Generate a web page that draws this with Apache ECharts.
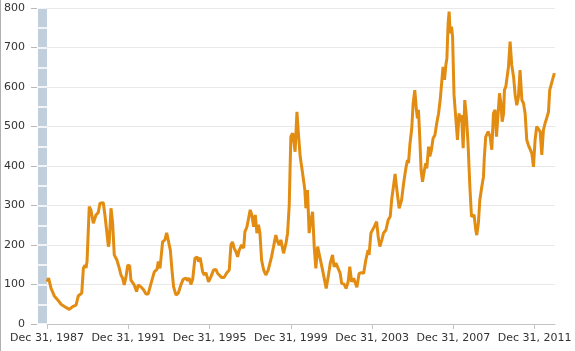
<!DOCTYPE html>
<html>
<head>
<meta charset="utf-8">
<script src="https://cdn.jsdelivr.net/npm/echarts@6/dist/echarts.min.js"></script>
<style>
html,body{margin:0;padding:0;background:#fff;}
#main{width:574px;height:351px;border-left:1px solid #b0b0b0;}
</style>
</head>
<body>
<div id="main"></div>
<script>
// 时间（年份小数，1988.00 = Dec 31, 1987）
var dates=[1988.00,1988.08,1988.20,1988.36,1988.53,1988.69,1988.93,1989.10,1989.26,1989.43,1989.54,1989.61,1989.71,1989.79,1989.87,1989.92,1989.97,
	1990.08,1990.16,1990.28,1990.36,1990.41,1990.52,1990.61,1990.69,1990.77,1990.85,1990.95,1991.02,1991.06,1991.15,1991.23,1991.31,1991.44,1991.56,1991.64,1991.72,1991.80,1991.89,1991.97,
	1992.07,1992.13,1992.22,1992.29,1992.41,1992.49,1992.62,1992.76,1992.87,1992.98,1993.04,
	1993.12,1993.28,1993.41,1993.48,1993.56,1993.69,1993.80,1993.89,1993.97,1994.07,1994.15,1994.23,1994.35,1994.46,1994.59,1994.70,1994.84,1994.92,
	1995.00,1995.08,1995.17,1995.28,1995.38,1995.46,1995.54,1995.66,1995.74,1995.82,1995.95,1996.07,1996.20,1996.31,1996.40,1996.48,1996.59,1996.72,1996.85,1996.97,
	1997.05,1997.13,1997.21,1997.30,1997.38,1997.46,1997.58,1997.68,1997.74,1997.84,1997.92,1998.00,1998.08,1998.17,1998.25,1998.33,1998.41,1998.48,1998.56,1998.66,1998.77,1998.89,1998.98,
	1999.05,1999.15,1999.26,1999.35,1999.43,1999.51,1999.64,1999.76,1999.84,1999.92,
	2000.00,2000.09,2000.16,2000.21,2000.30,2000.36,2000.46,2000.58,2000.69,2000.74,2000.82,2000.90,2000.99,
	2001.07,2001.15,2001.23,2001.32,2001.44,2001.56,2001.64,2001.74,2001.84,2001.94,
	2002.05,2002.13,2002.22,2002.30,2002.43,2002.50,2002.62,2002.72,2002.82,2002.90,2002.99,
	2003.09,2003.15,2003.25,2003.36,2003.48,2003.58,2003.69,2003.80,2003.85,2003.94,
	2004.02,2004.10,2004.22,2004.30,2004.38,2004.48,2004.56,2004.68,2004.79,2004.89,2004.97,
	2005.05,2005.13,2005.22,2005.33,2005.45,2005.55,2005.61,2005.66,2005.74,2005.79,2005.86,2005.95,
	2006.02,2006.10,2006.18,2006.23,2006.28,2006.35,2006.41,2006.48,2006.56,2006.64,2006.69,2006.78,2006.84,2006.92,
	2007.00,2007.09,2007.18,2007.27,2007.35,2007.43,2007.49,2007.56,2007.63,2007.68,2007.74,2007.79,2007.84,2007.91,2007.96,
	2008.03,2008.12,2008.20,2008.28,2008.33,2008.40,2008.48,2008.56,2008.64,2008.72,2008.81,2008.89,2008.97,
	2009.02,2009.10,2009.15,2009.23,2009.30,2009.40,2009.48,2009.52,2009.59,2009.71,2009.81,2009.89,2009.97,
	2010.05,2010.12,2010.20,2010.27,2010.33,2010.40,2010.47,2010.51,2010.58,2010.66,2010.71,2010.79,2010.87,2010.96,
	2011.04,2011.12,2011.20,2011.28,2011.37,2011.45,2011.53,2011.61,2011.69,2011.77,2011.86,2011.94,
	2012.02,2012.10,2012.19,2012.27,2012.35,2012.43,2012.51,2012.59,2012.68,2012.74,2012.83,2012.92,2012.97];

// 价格
var prices=[107,116,90,71,61,50,42,37,44,48,71,69,78,141,149,142,158,
	297,289,255,255,276,282,306,301,307,276,230,196,205,293,255,175,162,141,124,116,99,120,149,
	147,111,110,99,82,99,94,86,76,76,80,
	103,132,138,158,141,208,213,231,230,187,137,94,73,78,99,113,116,110,
	116,100,113,166,170,158,168,132,124,130,107,120,137,138,128,132,118,118,130,137,
	200,208,192,183,170,187,200,192,234,246,251,289,276,246,276,230,251,230,162,137,124,137,132,
	170,196,225,208,200,213,179,204,230,300,
	474,483,457,436,537,491,424,381,339,293,339,230,263,
	284,196,141,196,166,137,132,90,120,154,
	175,145,154,149,128,103,101,90,107,145,107,
	116,120,93,128,130,128,162,187,175,230,
	225,246,259,221,196,213,230,238,263,272,318,
	348,380,339,293,314,356,377,394,415,407,455,495,
	559,592,542,521,542,466,390,360,386,407,394,449,424,441,
	470,478,508,533,567,571,651,618,656,673,761,791,736,753,727,
	580,575,466,533,512,529,445,567,525,457,348,272,268,
	276,238,225,255,314,348,373,420,474,487,474,441,533,
	542,474,533,584,563,512,533,592,601,597,651,715,656,626,
	580,554,575,643,567,559,533,466,453,457,432,398,
	466,500,500,487,428,491,508,521,537,592,597,626,635];

// x轴刻度位置（每4年）
var xTicks=[1988,1992,1996,2000,2004,2008,2012];

var seriesData=[];
for(var i=0;i<dates.length;i++){
	seriesData.push([dates[i],prices[i]]);
}

var myChart=echarts.init(document.getElementById('main'));

var option={
	animation:false,
	grid:{left:45,right:20,top:8,bottom:27},
	xAxis:{
		type:'value',
		min:1988,
		max:2013,
		splitLine:{show:false},
		axisLine:{lineStyle:{color:'#c4c4c4',width:1}},
		axisTick:{customValues:xTicks,length:5,lineStyle:{color:'#c4c4c4'}},
		axisLabel:{
			customValues:xTicks,
			margin:9,
			color:'#333',
			fontSize:11,
			fontFamily:'DejaVu Sans',
			formatter:function(v){return 'Dec 31, '+(v-1);}
		}
	},
	yAxis:[{
		// 主轴：标签和刻度
		type:'value',min:0,max:800,interval:100,
		position:'left',offset:10,
		axisLine:{show:false},
		axisTick:{show:true,length:6,lineStyle:{color:'#b8b8b8'}},
		axisLabel:{margin:12,color:'#333',fontSize:11,fontFamily:'DejaVu Sans'},
		splitLine:{lineStyle:{color:'#e8e8e8'}}
	},{
		// 左侧灰蓝色竖条
		type:'value',min:0,max:800,interval:100,
		position:'left',offset:5,
		axisLine:{show:true,lineStyle:{color:'#c1cfdc',width:9,cap:'butt'}},
		axisTick:{show:false},
		axisLabel:{show:false},
		splitLine:{show:false}
	},{
		// 竖条上的白色分隔线
		type:'value',min:0,max:800,interval:50,
		position:'left',offset:0,
		axisLine:{show:false},
		axisTick:{show:true,length:9,lineStyle:{color:'#fff',width:1.5}},
		axisLabel:{show:false},
		splitLine:{show:false}
	}],
	series:[{
		type:'line',
		data:seriesData,
		showSymbol:false,
		lineStyle:{color:'#e38c12',width:3},
		itemStyle:{color:'#e38c12'}
	}]
};

myChart.setOption(option);
</script>
</body>
</html>
